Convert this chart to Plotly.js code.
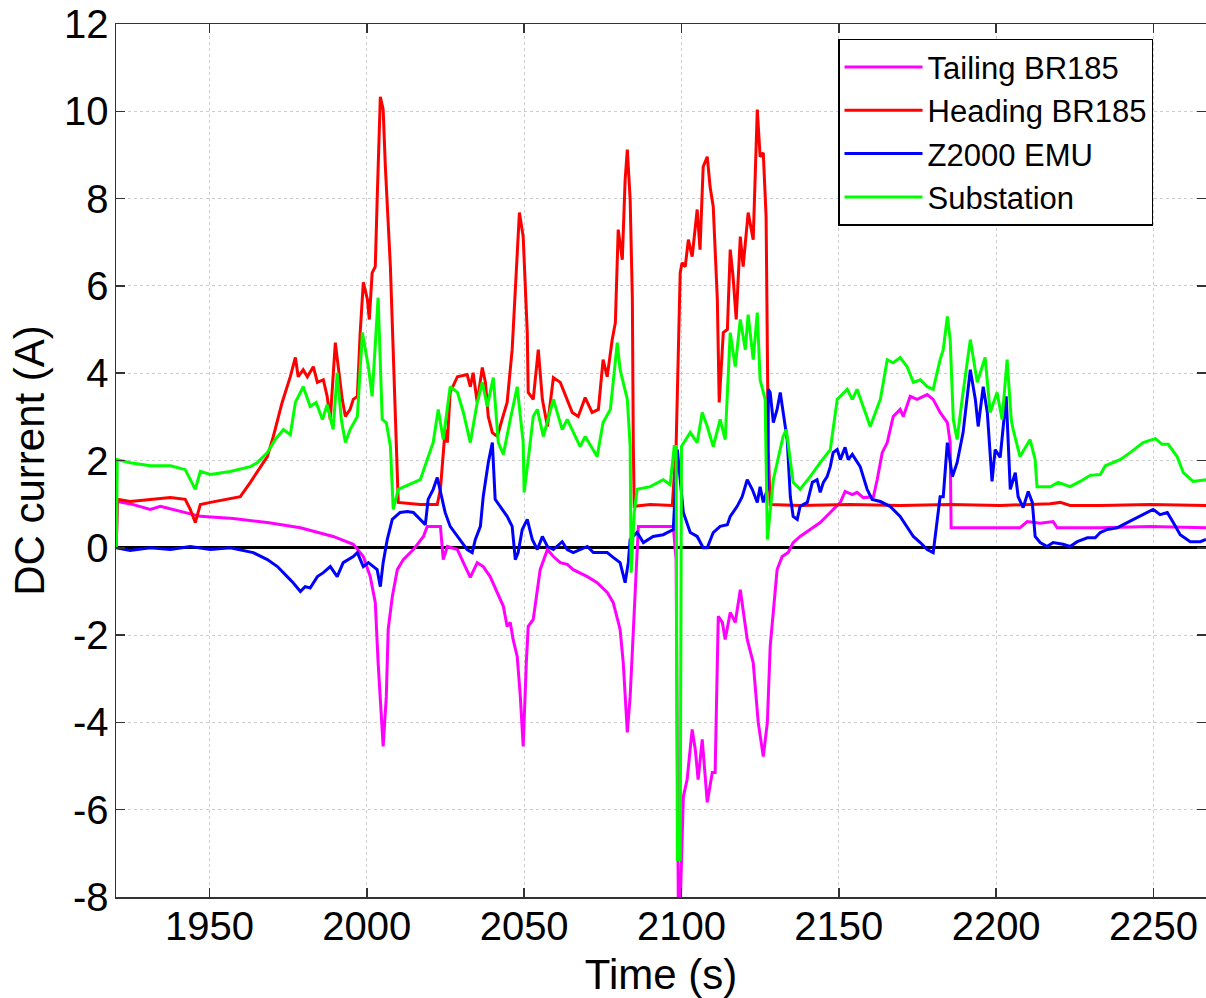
<!DOCTYPE html>
<html>
<head>
<meta charset="utf-8">
<script src="https://cdn.plot.ly/plotly-3.0.1.min.js"></script>
<style>
html, body { margin: 0; padding: 0; background: #ffffff; }
#chart { width: 1206px; height: 998px; }
</style>
</head>
<body>
<div id="chart"></div>
<script>
// ---- Data: [time (s), DC current (A)] ----
const seriesNames = ["Tailing BR185", "Heading BR185", "Z2000 EMU", "Substation"];

const tailingBR185 = [
  [1920.4,0],[1920.7,1.06],[1925.8,0.99],[1931.2,0.88],[1934.4,0.95],[1941.7,0.81],[1947.1,0.72],
  [1957.6,0.67],[1968.4,0.58],[1978.9,0.46],[1989.3,0.26],[1995.7,0.08],[1998.9,-0.20],[2001.1,-0.66],
  [2002.7,-1.25],[2003.6,-2.63],[2005.2,-4.55],[2006.2,-3.41],[2006.8,-1.87],[2008.1,-1.12],[2009.7,-0.50],
  [2011.6,-0.27],[2014.8,-0.04],[2018.0,0.26],[2019.2,0.49],[2023.4,0.49],[2024.3,-0.27],[2025.6,0.03],
  [2028.8,-0.04],[2030.7,-0.34],[2032.9,-0.68],[2035.1,-0.34],[2037.0,-0.43],[2039.2,-0.66],[2041.5,-1.02],
  [2043.4,-1.34],[2044.6,-1.80],[2045.6,-1.71],[2046.5,-2.10],[2047.8,-2.49],[2048.8,-3.41],[2049.7,-4.55],
  [2050.7,-2.63],[2051.3,-1.80],[2052.9,-1.64],[2055.1,-0.50],[2057.4,-0.04],[2059.3,-0.20],[2061.5,-0.34],
  [2063.7,-0.38],[2065.6,-0.50],[2067.8,-0.57],[2070.1,-0.66],[2073.2,-0.80],[2076.4,-1.02],[2078.3,-1.25],
  [2080.5,-1.87],[2081.5,-2.63],[2082.8,-4.23],[2083.7,-3.41],[2084.7,-1.87],[2085.9,0.03],[2086.3,0.49],
  [2097.4,0.49],[2098.3,-0.27],[2099.0,-8.2],[2099.6,-8.2],[2100.6,-5.70],[2101.8,-5.31],[2103.4,-4.16],
  [2104.4,-4.62],[2105.3,-5.31],[2106.6,-4.39],[2108.2,-5.83],[2109.8,-5.15],[2110.7,-5.15],[2111.7,-1.57],
  [2113.0,-1.71],[2113.9,-2.10],[2115.5,-1.48],[2117.1,-1.71],[2118.7,-0.96],[2120.9,-2.10],[2122.8,-2.63],
  [2124.4,-4.00],[2126.0,-4.78],[2127.3,-4.00],[2128.2,-2.26],[2130.4,-0.50],[2132.0,-0.20],[2133.9,-0.11],
  [2135.5,0.12],[2137.7,0.26],[2140.9,0.42],[2144.1,0.58],[2147.3,0.81],[2150.5,1.04],[2152.0,1.29],
  [2154.3,1.22],[2155.8,1.27],[2157.8,1.15],[2161.0,1.17],[2162.2,1.56],[2163.8,2.18],[2165.4,2.41],
  [2167.3,3.01],[2169.5,3.17],[2170.5,3.01],[2172.7,3.47],[2174.9,3.40],[2176.8,3.47],[2178.1,3.51],
  [2180.0,3.40],[2182.2,3.10],[2184.5,2.87],[2185.4,2.41],[2185.7,0.46],[2201.3,0.46],[2207.6,0.46],
  [2209.9,0.60],[2214.0,0.56],[2218.1,0.60],[2219.4,0.46],[2233.1,0.46],[2249.0,0.49],[2266.7,0.46]
];

const headingBR185 = [
  [1920.4,0],[1920.7,1.11],[1924.8,1.06],[1931.2,1.11],[1937.6,1.15],[1942.3,1.11],[1943.9,0.88],
  [1945.5,0.58],[1947.1,0.99],[1950.3,1.04],[1956.6,1.13],[1959.8,1.17],[1963.0,1.50],[1966.2,1.86],
  [1968.4,2.09],[1970.3,2.55],[1973.1,3.33],[1975.7,3.92],[1977.3,4.36],[1978.2,3.92],[1979.8,4.08],
  [1981.1,3.92],[1983.0,4.15],[1984.3,3.79],[1986.2,3.85],[1987.4,3.47],[1988.4,2.94],[1990.0,4.70],
  [1990.9,4.15],[1992.2,3.40],[1993.2,3.01],[1994.7,3.17],[1995.7,3.40],[1997.0,3.47],[1997.9,4.93],
  [1998.9,6.08],[2000.2,5.69],[2000.8,5.23],[2001.7,6.30],[2002.7,6.44],[2003.3,7.98],[2004.3,10.33],
  [2005.2,10.04],[2005.9,8.73],[2007.5,6.44],[2008.4,4.54],[2009.1,2.64],[2010.0,1.04],[2017.0,0.99],
  [2022.4,0.99],[2023.4,1.34],[2024.9,2.71],[2025.6,2.41],[2026.5,3.56],[2028.8,3.92],[2031.9,3.97],
  [2032.9,3.69],[2033.8,4.01],[2035.1,3.33],[2036.7,4.13],[2037.7,3.79],[2038.6,3.01],[2039.9,2.64],
  [2041.5,2.55],[2043.0,2.94],[2044.6,3.33],[2046.2,4.54],[2047.2,5.92],[2048.5,7.68],[2049.7,7.13],
  [2051.0,4.93],[2051.3,3.56],[2052.9,3.40],[2054.5,4.54],[2055.8,3.40],[2057.4,2.78],[2059.3,3.90],
  [2061.5,3.79],[2063.7,3.40],[2065.3,3.10],[2067.2,3.01],[2069.4,3.44],[2071.6,3.10],[2073.6,3.17],
  [2075.1,4.31],[2076.4,3.92],[2078.0,4.77],[2079.0,5.16],[2079.9,7.29],[2081.2,6.60],[2082.1,8.43],
  [2082.8,9.12],[2083.7,7.98],[2084.4,5.69],[2084.7,2.32],[2085.0,0.95],[2090.1,0.99],[2097.1,0.97],
  [2098.3,2.32],[2099.6,6.30],[2100.2,6.53],[2101.2,6.44],[2102.2,7.06],[2103.4,6.67],[2105.0,7.75],
  [2105.9,6.83],[2106.9,8.73],[2108.2,8.96],[2109.1,8.27],[2110.1,7.82],[2111.4,5.69],[2112.0,3.33],
  [2113.3,4.93],[2114.6,5.00],[2115.5,6.83],[2116.4,6.21],[2117.4,5.23],[2118.7,7.13],[2119.6,6.44],
  [2121.2,7.68],[2122.8,7.06],[2124.1,10.04],[2125.0,8.96],[2126.0,9.05],[2126.9,7.59],[2127.6,2.25],
  [2128.2,0.99],[2137.7,0.97],[2153.6,0.99],[2169.5,0.97],[2185.4,0.99],[2201.3,0.97],[2217.2,1.01],
  [2220.4,1.04],[2223.5,0.97],[2233.1,0.97],[2249.0,0.99],[2266.7,0.97]
];

const z2000EMU = [
  [1920.4,0.00],[1924.8,-0.06],[1931.2,0.00],[1937.6,-0.04],[1943.9,0.03],[1950.3,-0.04],[1956.6,0.00],
  [1963.9,-0.11],[1968.4,-0.27],[1971.6,-0.43],[1974.7,-0.66],[1976.6,-0.80],[1978.9,-1.00],[1980.4,-0.89],
  [1982.0,-0.92],[1984.3,-0.66],[1986.2,-0.57],[1988.4,-0.43],[1990.6,-0.66],[1992.5,-0.34],[1995.7,-0.20],
  [1997.0,-0.11],[1998.9,-0.43],[2000.5,-0.34],[2002.1,-0.43],[2003.3,-0.50],[2004.3,-0.89],[2005.2,-0.34],
  [2006.5,0.19],[2008.1,0.65],[2010.6,0.81],[2012.9,0.83],[2014.8,0.81],[2017.0,0.65],[2018.6,0.53],
  [2019.5,1.11],[2021.1,1.34],[2022.4,1.61],[2023.4,1.27],[2024.9,0.81],[2026.5,0.49],[2028.8,0.26],
  [2031.9,-0.04],[2033.5,-0.11],[2034.5,0.19],[2036.1,0.49],[2037.0,1.17],[2038.6,1.95],[2039.9,2.41],
  [2040.8,1.11],[2043.0,0.88],[2044.6,0.72],[2046.2,0.49],[2047.2,-0.27],[2048.1,-0.11],[2049.4,0.42],
  [2051.0,0.65],[2052.6,0.19],[2054.2,-0.04],[2055.8,0.26],[2057.4,0.03],[2059.3,-0.04],[2062.1,0.14],
  [2063.7,-0.04],[2065.6,-0.11],[2070.1,0.03],[2072.0,-0.11],[2076.4,-0.11],[2078.3,-0.22],[2080.5,-0.34],
  [2082.1,-0.80],[2083.1,-0.34],[2083.7,0.19],[2085.9,0.35],[2087.9,0.12],[2091.0,0.26],[2094.2,0.30],
  [2097.4,0.42],[2098.7,2.25],[2099.6,1.50],[2100.6,0.81],[2102.8,0.35],[2105.0,0.26],[2106.9,0.00],
  [2108.2,0.00],[2110.1,0.35],[2112.3,0.49],[2114.6,0.53],[2115.5,0.72],[2117.7,0.95],[2119.3,1.17],
  [2120.9,1.56],[2122.5,1.34],[2124.1,1.04],[2125.0,1.40],[2126.0,1.04],[2127.3,1.34],[2127.6,3.63],
  [2128.2,3.56],[2129.2,2.87],[2130.4,3.17],[2131.4,3.56],[2132.3,3.10],[2133.6,2.48],[2134.6,1.17],
  [2135.5,0.72],[2136.8,0.65],[2137.7,0.95],[2140.0,1.04],[2141.6,1.50],[2143.1,1.56],[2144.1,1.27],
  [2145.1,1.50],[2146.3,1.63],[2147.3,1.86],[2148.2,2.18],[2149.5,2.25],[2150.5,2.02],[2152.0,2.30],
  [2153.0,2.02],[2154.3,2.14],[2156.8,1.86],[2159.0,1.34],[2160.6,1.11],[2163.2,1.06],[2166.3,0.95],
  [2169.5,0.72],[2171.7,0.49],[2173.7,0.26],[2175.9,0.12],[2178.1,-0.04],[2180.0,-0.11],[2181.3,0.58],
  [2182.2,1.17],[2183.2,1.17],[2184.5,2.41],[2186.1,1.63],[2187.6,1.95],[2189.5,2.64],[2191.8,4.08],
  [2193.4,3.40],[2194.3,2.78],[2195.9,3.69],[2197.2,3.10],[2198.7,1.52],[2199.7,2.25],[2201.3,2.07],
  [2203.2,3.47],[2204.5,1.34],[2206.1,1.72],[2207.0,1.17],[2208.6,0.92],[2210.2,1.29],[2211.5,1.04],
  [2212.4,0.26],[2214.0,0.12],[2216.2,0.03],[2218.1,0.12],[2221.3,0.08],[2223.5,0.03],[2225.8,0.14],
  [2229.0,0.23],[2231.5,0.23],[2233.1,0.35],[2235.3,0.42],[2238.5,0.46],[2240.4,0.53],[2243.6,0.65],
  [2246.7,0.76],[2249.9,0.88],[2252.1,0.76],[2254.4,0.81],[2256.3,0.58],[2258.5,0.30],[2261.7,0.14],
  [2264.9,0.14],[2266.7,0.19]
];

const substation = [
  [1920.4,0],[1920.7,2.02],[1924.8,1.95],[1931.2,1.88],[1937.6,1.88],[1942.3,1.79],[1945.5,1.34],
  [1947.1,1.75],[1950.3,1.68],[1956.6,1.75],[1963.0,1.86],[1965.2,1.95],[1968.4,2.18],[1970.9,2.48],
  [1973.5,2.71],[1975.7,2.59],[1977.3,3.33],[1979.8,3.69],[1982.0,3.24],[1983.9,3.33],[1985.9,2.94],
  [1987.4,3.28],[1989.3,2.71],[1990.6,4.01],[1991.9,2.94],[1993.2,2.41],[1994.7,2.71],[1997.0,3.01],
  [1998.6,4.93],[2000.5,4.15],[2001.7,3.47],[2002.7,4.54],[2003.6,5.73],[2004.9,2.94],[2006.2,2.87],
  [2007.5,2.32],[2008.4,0.88],[2010.0,1.34],[2013.8,1.45],[2017.0,1.56],[2019.2,2.02],[2021.1,2.41],
  [2022.7,3.17],[2024.3,2.48],[2026.5,3.69],[2028.8,3.56],[2030.7,3.10],[2032.9,2.41],[2035.1,3.33],
  [2036.7,3.79],[2038.3,3.24],[2040.2,3.90],[2041.8,2.41],[2043.4,2.14],[2045.6,2.94],[2047.8,3.69],
  [2049.7,2.41],[2050.0,1.27],[2051.3,2.02],[2052.9,3.01],[2054.2,3.17],[2056.1,2.55],[2059.3,3.40],
  [2062.1,2.71],[2063.7,2.94],[2067.8,2.32],[2069.4,2.55],[2073.2,2.09],[2075.1,2.87],[2077.4,3.17],
  [2079.6,4.70],[2080.5,4.08],[2082.8,3.40],[2083.7,2.32],[2084.0,-0.57],[2085.0,0.81],[2085.9,1.34],
  [2090.1,1.40],[2094.2,1.56],[2096.4,1.45],[2097.7,2.32],[2098.3,2.32],[2098.7,-7.14],[2099.6,-7.14],
  [2100.0,2.32],[2102.8,2.64],[2105.0,2.41],[2106.6,3.10],[2108.2,2.78],[2110.1,2.32],[2112.3,2.94],
  [2113.9,2.48],[2115.5,4.93],[2117.1,4.15],[2118.7,5.23],[2120.3,4.54],[2121.2,5.34],[2122.8,4.31],
  [2124.1,5.39],[2125.0,3.85],[2126.6,3.40],[2127.3,0.19],[2129.2,1.56],[2132.3,2.55],[2133.3,2.71],
  [2135.5,1.50],[2137.7,1.34],[2140.9,1.63],[2144.1,1.95],[2147.3,2.25],[2149.5,3.40],[2152.7,3.63],
  [2154.3,3.40],[2155.8,3.63],[2160.0,2.78],[2163.2,3.40],[2165.4,4.31],[2167.3,4.24],[2169.5,4.36],
  [2171.7,4.15],[2173.7,3.79],[2175.9,3.85],[2178.1,3.69],[2180.0,3.63],[2182.2,4.31],[2183.2,4.54],
  [2184.5,5.30],[2185.4,4.77],[2186.4,2.94],[2187.6,2.48],[2189.2,3.40],[2190.8,4.31],[2191.8,4.77],
  [2194.0,3.79],[2196.5,4.36],[2198.1,3.10],[2200.3,3.56],[2201.9,2.94],[2203.5,4.31],[2204.8,2.94],
  [2205.4,2.71],[2207.6,2.09],[2210.8,2.48],[2212.4,2.02],[2213.0,1.40],[2217.2,1.40],[2219.7,1.50],
  [2223.5,1.40],[2226.7,1.52],[2229.9,1.66],[2233.1,1.68],[2234.7,1.88],[2239.4,2.02],[2242.6,2.18],
  [2246.7,2.41],[2250.6,2.50],[2252.8,2.37],[2254.7,2.37],[2257.5,2.09],[2259.5,1.72],[2262.6,1.52],
  [2266.7,1.56]
];

const xTickValues = [1950, 2000, 2050, 2100, 2150, 2200, 2250];
const xTickLabels = ["1950", "2000", "2050", "2100", "2150", "2200", "2250"];
const yTickValues = [-8, -6, -4, -2, 0, 2, 4, 6, 8, 10, 12];
const yTickLabels = ["-8", "-6", "-4", "-2", "0", "2", "4", "6", "8", "10", "12"];

// ---- Styling ----
const seriesData = [tailingBR185, headingBR185, z2000EMU, substation];
const seriesColors = ["#ff00ff", "#ff0000", "#0000ff", "#00ff00"];
const FONT = "'Liberation Sans', Arial, Helvetica, sans-serif";

const traces = seriesData.map((pts, i) => ({
  type: "scatter",
  mode: "lines",
  name: seriesNames[i],
  x: pts.map(p => p[0]),
  y: pts.map(p => p[1]),
  line: { color: seriesColors[i], width: 3 },
  hoverinfo: "skip"
}));

const axisCommon = {
  showgrid: true,
  gridcolor: "#cccccc",
  griddash: "dot",
  gridwidth: 1,
  ticks: "inside",
  ticklen: 9,
  tickwidth: 1.5,
  tickcolor: "#333333",
  showline: true,
  linecolor: "#333333",
  linewidth: 1.5,
  mirror: "ticks",
  automargin: false,
  tickfont: { family: FONT, size: 40, color: "#000000" }
};

const layout = {
  width: 1206,
  height: 998,
  margin: { l: 116, r: 0, t: 24, b: 101 },
  paper_bgcolor: "#ffffff",
  plot_bgcolor: "#ffffff",
  font: { family: FONT, color: "#000000" },
  showlegend: true,
  legend: {
    x: 0.6624, y: 0.983, xanchor: "left", yanchor: "top",
    bgcolor: "#ffffff",
    bordercolor: "#000000",
    borderwidth: 1.5,
    font: { family: FONT, size: 31, color: "#000000" },
    itemwidth: 78
  },
  xaxis: Object.assign({}, axisCommon, {
    range: [1920.3, 2266.7],
    tickmode: "array",
    tickvals: xTickValues,
    ticktext: xTickLabels,
    zeroline: false,
    ticklabelstandoff: -7,
    title: { text: "Time (s)", font: { family: FONT, size: 42, color: "#000000" }, standoff: 14 }
  }),
  yaxis: Object.assign({}, axisCommon, {
    range: [-8, 12],
    tickmode: "array",
    tickvals: yTickValues,
    ticktext: yTickLabels,
    zeroline: true,
    zerolinecolor: "#000000",
    zerolinewidth: 3,
    ticklabelstandoff: -2,
    title: { text: "DC current (A)", font: { family: FONT, size: 42, color: "#000000" }, standoff: 6 }
  })
};

Plotly.newPlot("chart", traces, layout, { displayModeBar: false, staticPlot: true });
</script>
</body>
</html>
